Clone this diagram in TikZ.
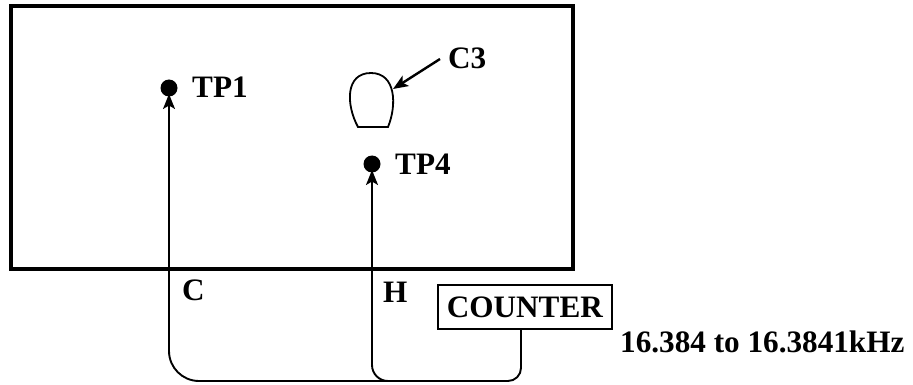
\documentclass[tikz,border=0pt]{standalone}
\usepackage{fontspec}
\setmainfont{Liberation Serif}
\usetikzlibrary{arrows.meta}
\tikzset{
  bigtext/.style={font=\fontsize{31.2}{31.2}\selectfont\bfseries},
  lab/.style={bigtext, inner sep=0pt, anchor=base west},
  wire/.style={line width=1.9pt, draw=black},
  tip/.style={-{Stealth[length=15pt,width=12pt,inset=3.5pt]}},
  dot/.style={circle, fill=black, minimum size=17pt, inner sep=0pt}
}
\begin{document}
\begin{tikzpicture}[x=1pt,y=-1pt]
\useasboundingbox (0,0) rectangle (913,385);
\node[draw=black, line width=4pt, minimum width=562pt, minimum height=263pt, inner sep=0pt, anchor=north west] (board) at (8.5,4) {};
\node[dot] (tp1) at (169,88) {};
\node[dot] (tp4) at (372,164) {};
\node[lab] (ltp1) at (192,98) {TP1};
\node[lab] (ltp4) at (395,175) {TP4};
\node[lab] (lc3) at (448,69) {C3};
\node[lab] (lc) at (182,300) {C};
\node[lab] (lh) at (383,302) {H};
\node[lab] (freq) at (620,352) {16.384 to 16.3841kHz};
\node[draw=black, line width=1.7pt, bigtext, minimum width=174pt, minimum height=44pt, inner sep=0pt, anchor=north west] (counter) at (437,284) {COUNTER};
\draw[line width=1.8pt] (358,127) .. controls (346,105) and (345,73) .. (371,73) .. controls (396,73) and (397,105) .. (388,127) -- cycle;
\coordinate (c3tip) at (393,89);
\coordinate (c3from) at (440,59);
\draw[wire,tip,line width=2.4pt] (c3from) -- (c3tip);
\coordinate (cj) at (521,329);
\coordinate (cjoin) at (387,381);
\coordinate (tip1) at (169,94);
\coordinate (tip4) at (372,170);
\draw[wire,tip,rounded corners=30pt] (cjoin) -- (169,381) -- (tip1);
\draw[wire,tip,rounded corners=16pt] (cjoin) -- (372,381) -- (tip4);
\draw[wire,rounded corners=13pt] (cj) -- (521,381) -- (cjoin);
\end{tikzpicture}
\end{document}
